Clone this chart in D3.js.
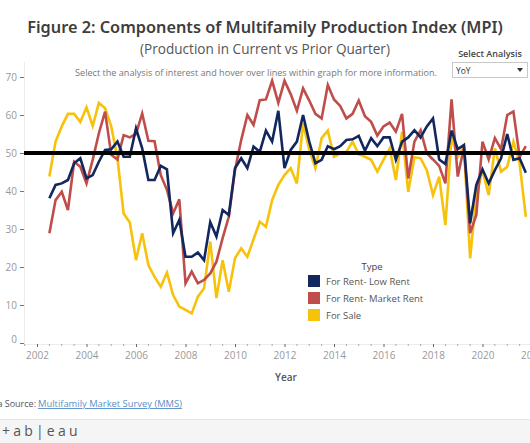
<!DOCTYPE html>
<html>
<head>
<meta charset="utf-8">
<script src="https://cdn.jsdelivr.net/npm/d3@7"></script>
<style>
  html, body { margin: 0; padding: 0; background: #fff; overflow: hidden; }
  svg { display: block; font-family: "Open Sans", "Noto Sans", sans-serif; }
</style>
</head>
<body>
<svg id="chart" width="530" height="443"></svg>
<script>
// ---- Data (quarterly) ----
const quarters = [
  "2002Q3","2002Q4",
  "2003Q1","2003Q2","2003Q3","2003Q4",
  "2004Q1","2004Q2","2004Q3","2004Q4",
  "2005Q1","2005Q2","2005Q3","2005Q4",
  "2006Q1","2006Q2","2006Q3","2006Q4",
  "2007Q1","2007Q2","2007Q3","2007Q4",
  "2008Q1","2008Q2","2008Q3","2008Q4",
  "2009Q1","2009Q2","2009Q3","2009Q4",
  "2010Q1","2010Q2","2010Q3","2010Q4",
  "2011Q1","2011Q2","2011Q3","2011Q4",
  "2012Q1","2012Q2","2012Q3","2012Q4",
  "2013Q1","2013Q2","2013Q3","2013Q4",
  "2014Q1","2014Q2","2014Q3","2014Q4",
  "2015Q1","2015Q2","2015Q3","2015Q4",
  "2016Q1","2016Q2","2016Q3","2016Q4",
  "2017Q1","2017Q2","2017Q3","2017Q4",
  "2018Q1","2018Q2","2018Q3","2018Q4",
  "2019Q1","2019Q2","2019Q3","2019Q4",
  "2020Q1","2020Q2","2020Q3","2020Q4",
  "2021Q1","2021Q2","2021Q3","2021Q4"
];
const lowRent = [
  38.1, 41.6, 42, 42.9, 47.3, 48.6, 43.3, 44.2, 47.7, 50.8,
  51, 53, 49, 49, 56.5, 51.2, 42.9, 42.9, 46.6, 45.7,
  28.9, 32.4, 22.7, 22.7, 23.8, 21.8, 31.8, 28, 35, 33.7,
  46, 48.6, 46, 51.7, 50.3, 55.9, 53, 61.1, 46, 50.8,
  53, 60, 53, 47.3, 48.2, 51.8, 51, 51.8, 53.4, 53.6,
  54.5, 50.6, 53.9, 51.8, 54.1, 54.1, 48.2, 53, 54.1, 56,
  54.1, 57, 59.1, 48.3, 47.1, 55.9, 51, 52.1, 31.5, 41.6,
  45.7, 42, 45.5, 48.6, 55, 48.2, 48.6, 44.8
];
const marketRent = [
  28.9, 37.6, 39.8, 35, 47.7, 46.4, 42, 48.2, 55.2, 60.9,
  49.5, 48.3, 54.7, 54.1, 55, 60.4, 53.2, 53.1, 44.2, 40.3,
  34.1, 37.8, 15.7, 18.8, 15.7, 16.6, 18.3, 21.4, 27.6, 33.2,
  45.5, 53.4, 60, 57.4, 63.9, 64.1, 69, 63.2, 69, 65.5,
  61.1, 67, 63.8, 60.3, 59.1, 67.9, 64.1, 62.4, 59.1, 60.3,
  63.8, 59.7, 58.2, 54.6, 57, 58, 55.6, 60.3, 43.3, 53,
  56, 49.9, 48.3, 46.6, 42, 64.1, 43.8, 51.5, 28.9, 33.7,
  53, 48.3, 53.9, 51, 60, 60.9, 49, 51.8
];
const forSale = [
  43.8, 53, 57, 60.3, 60.3, 58.2, 62, 57.1, 63.2, 61.8,
  57, 48.6, 34.1, 31.7, 21.8, 28.9, 20.5, 17.4, 14.8, 18.5,
  12.6, 9.6, 8.7, 7.8, 12.2, 14.4, 26.7, 11.8, 21.8, 13.5,
  22.3, 24.9, 22.7, 27.3, 31.9, 30.6, 37.6, 41.6, 44.2, 46,
  42, 57.8, 50.8, 46, 53.9, 55.9, 49, 49.9, 50.3, 53,
  49.7, 49, 48.2, 45.1, 48.2, 51.2, 42.9, 55.6, 39.8, 48.9,
  48.6, 45.5, 38.9, 43.8, 31, 54.1, 49, 51.8, 22.3, 38.9,
  45.5, 38.9, 51.2, 45.1, 46.4, 53, 47.3, 33.2
];
const seriesNames = ["For Rent- Low Rent", "For Rent- Market Rent", "For Sale"];
const seriesColors = ["#12275e", "#bf4e4b", "#f7c20a"];
const yTicks = [0, 10, 20, 30, 40, 50, 60, 70];
const xTickYears = [2002, 2004, 2006, 2008, 2010, 2012, 2014, 2016, 2018, 2020, 2022];
const referenceValue = 50;

// ---- Build ----
const svg = d3.select("#chart");
const W = 530, H = 443;

const parseQ = s => { const y = +s.slice(0, 4), q = +s.slice(5); return y + (q - 1) / 4; };
const times = quarters.map(parseQ);

const plotLeft = 24, plotRight = 530, plotTop = 62, plotBottom = 344;
const x = d3.scaleLinear().domain([2002, 2022]).range([37, 532]);
const y = d3.scaleLinear().domain([0, 70]).range([343, 77]);

function fitText(sel, target) {
  const len = sel.node().getComputedTextLength();
  const fs = parseFloat(sel.attr("font-size"));
  sel.attr("font-size", (fs * target / len).toFixed(2));
}
// Titles
const title = svg.append("text").attr("x", 265).attr("y", 33).attr("text-anchor", "middle")
  .attr("font-size", 18).attr("font-weight", 600).attr("fill", "#3d3d3d")
  .attr("font-family", "'Noto Sans', 'Open Sans', sans-serif")
  .text("Figure 2: Components of Multifamily Production Index (MPI)");
fitText(title, 476);
const sub = svg.append("text").attr("x", 265).attr("y", 54).attr("text-anchor", "middle")
  .attr("font-size", 13).attr("fill", "#555")
  .text("(Production in Current vs Prior Quarter)");
fitText(sub, 250);
const instr = svg.append("text").attr("x", 256).attr("y", 76).attr("text-anchor", "middle")
  .attr("font-size", 9).attr("fill", "#777")
  .text("Select the analysis of interest and hover over lines within graph for more information.");
fitText(instr, 362);

// Select analysis control
svg.append("text").attr("x", 490).attr("y", 57).attr("text-anchor", "middle")
  .attr("font-size", 9).attr("font-weight", 600).attr("fill", "#444").text("Select Analysis");
svg.append("rect").attr("x", 452.5).attr("y", 62.5).attr("width", 75).attr("height", 15)
  .attr("fill", "#fff").attr("stroke", "#c8c8c8");
svg.append("text").attr("x", 456).attr("y", 73.5).attr("font-size", 8.5).attr("fill", "#333").text("YoY");
svg.append("path").attr("d", "M517,68 L523,68 L520,72 Z").attr("fill", "#333");

// Axes
const yAxisG = svg.append("g").attr("transform", `translate(${plotLeft},0)`);
yAxisG.append("line").attr("x1", 0.5).attr("x2", 0.5).attr("y1", plotTop).attr("y2", plotBottom)
  .attr("stroke", "#ececec");
yAxisG.call(d3.axisLeft(y).tickValues(yTicks).tickSize(4).tickPadding(3))
  .call(g => g.select(".domain").remove())
  .call(g => g.selectAll(".tick line").attr("stroke", "#777"))
  .call(g => g.selectAll(".tick text").attr("fill", "#999").attr("font-size", 10)
    .attr("font-family", "'Open Sans', sans-serif"));
yAxisG.selectAll(".tick").filter(d => d === 0).select("text").attr("dy", "-0.1em");

const xAxisG = svg.append("g").attr("transform", `translate(0,${plotBottom})`);
xAxisG.append("line").attr("x1", plotLeft).attr("x2", plotRight).attr("y1", 0.5).attr("y2", 0.5)
  .attr("stroke", "#ececec");
xAxisG.call(d3.axisBottom(x).tickValues(xTickYears).tickFormat(d3.format("d")).tickSize(3).tickPadding(5))
  .call(g => g.select(".domain").remove())
  .call(g => g.selectAll(".tick line").attr("stroke", "#666"))
  .call(g => g.selectAll(".tick text").attr("fill", "#999").attr("font-size", 10)
    .attr("font-family", "'Open Sans', sans-serif"));
const minorYears = d3.range(2001.5, 2022, 0.5).filter(v => !xTickYears.includes(v));
xAxisG.selectAll(".minor").data(minorYears).join("line").attr("class", "minor")
  .attr("x1", d => x(d)).attr("x2", d => x(d)).attr("y1", 0).attr("y2", 2)
  .attr("stroke", "#aaa");

svg.append("text").attr("x", 286).attr("y", 381).attr("text-anchor", "middle")
  .attr("font-size", 10).attr("font-weight", 600).attr("fill", "#555").text("Year");

// Lines
svg.append("clipPath").attr("id", "clip").append("rect")
  .attr("x", plotLeft).attr("y", plotTop).attr("width", plotRight - plotLeft).attr("height", plotBottom - plotTop);
const allSeries = [forSale, marketRent, lowRent];
const allColors = [seriesColors[2], seriesColors[1], seriesColors[0]];
const line = d3.line().x((d, i) => x(times[i])).y(d => y(d)).curve(d3.curveLinear);
const linesG = svg.append("g").attr("clip-path", "url(#clip)");
linesG.selectAll("path.series").data(allSeries).join("path").attr("class", "series")
  .attr("d", line).attr("fill", "none")
  .attr("stroke", (d, i) => allColors[i]).attr("stroke-width", 2.6)
  .attr("stroke-linejoin", "miter").attr("stroke-linecap", "butt");

// Reference line
svg.append("line").attr("x1", plotLeft).attr("x2", plotRight)
  .attr("y1", y(referenceValue)).attr("y2", y(referenceValue))
  .attr("stroke", "#000").attr("stroke-width", 4);

// Legend
const lg = svg.append("g");
lg.append("text").attr("x", 372).attr("y", 270).attr("text-anchor", "middle")
  .attr("font-size", 9.5).attr("fill", "#444").text("Type");
seriesNames.forEach((n, i) => {
  lg.append("rect").attr("x", 308).attr("y", 275 + i * 17).attr("width", 12).attr("height", 12)
    .attr("fill", seriesColors[i]);
  lg.append("text").attr("x", 326).attr("y", 285 + i * 17).attr("font-size", 9.5)
    .attr("fill", "#555").text(n);
});

// Source
svg.append("text").attr("x", 36).attr("y", 407).attr("text-anchor", "end")
  .attr("font-size", 9).attr("fill", "#555").text("Data Source:");
const src = svg.append("text").attr("x", 38).attr("y", 407)
  .attr("font-size", 9).attr("fill", "#5b8fc7").attr("text-decoration", "underline")
  .text("Multifamily Market Survey (MMS)");
fitText(src, 144);

// Tableau footer bar
svg.append("rect").attr("x", 0).attr("y", 419).attr("width", W).attr("height", 24).attr("fill", "#f5f5f5");
svg.append("line").attr("x1", 0).attr("x2", W).attr("y1", 419.5).attr("y2", 419.5).attr("stroke", "#e4e4e4");
svg.append("text").attr("x", 2).attr("y", 436).attr("font-size", 14).attr("fill", "#555")
  .attr("letter-spacing", 3.2).text("+ab|eau");
</script>
</body>
</html>
